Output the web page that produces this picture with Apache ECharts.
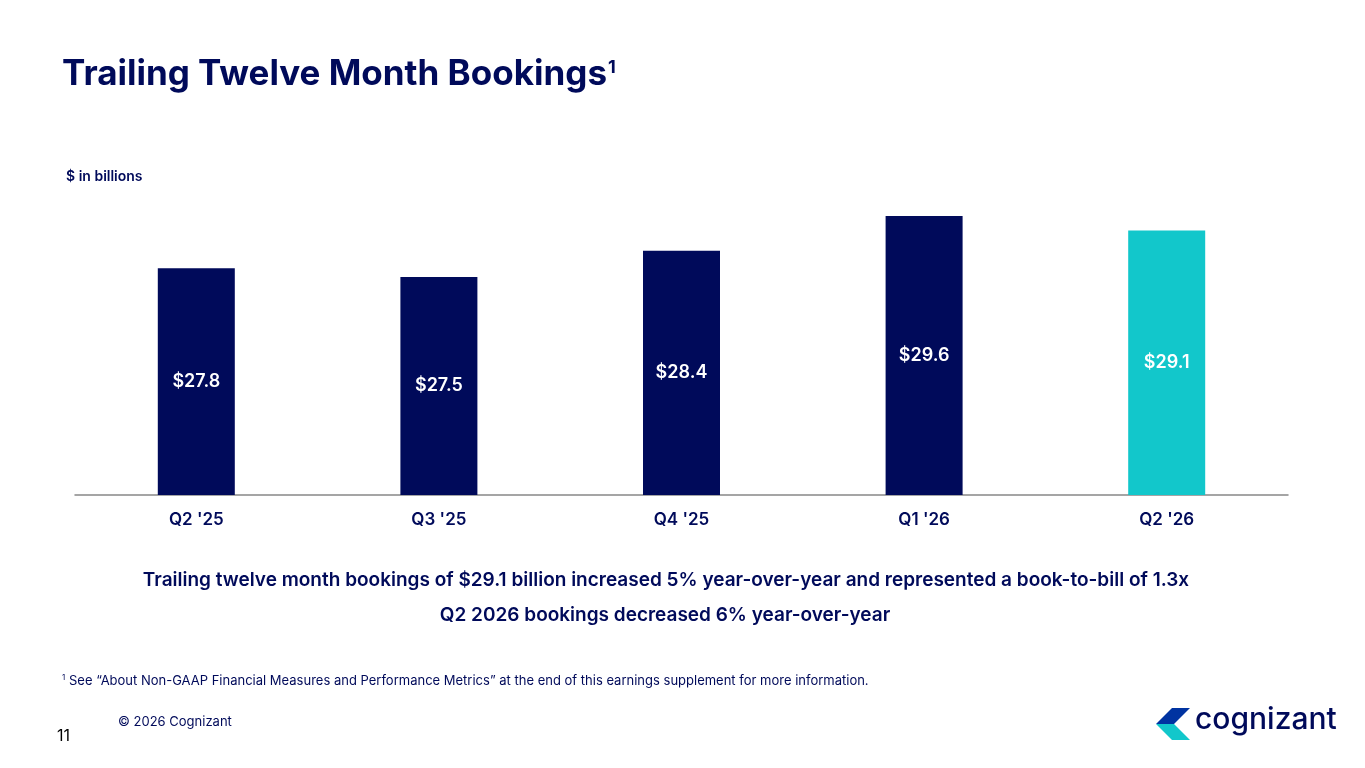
<!DOCTYPE html>
<html><head><meta charset="utf-8">
<script src="https://cdn.jsdelivr.net/npm/echarts@6/dist/echarts.min.js"></script>
<style>html,body{margin:0;padding:0;background:#fff}#c{width:1365px;height:768px}</style>
</head><body><div id="c"></div>
<script>
const categories = ["Q2 '25", "Q3 '25", "Q4 '25", "Q1 '26", "Q2 '26"];
const bookings = [27.8, 27.5, 28.4, 29.6, 29.1];
const barColors = ['#000a5a', '#000a5a', '#000a5a', '#000a5a', '#12c7cb'];
const navy = '#000a5a';
const chart = echarts.init(document.getElementById('c'));
const F = 'Inter, "Noto Sans", sans-serif';
chart.setOption({
  animation: false,
  textStyle: { fontFamily: F },
  grid: { left: 75, right: 77, top: 200, bottom: 273, containLabel: false },
  xAxis: { type: 'category', data: categories,
    axisLine: { lineStyle: { color: '#888', width: 1.5 } }, axisTick: { show: false },
    axisLabel: { color: navy, fontSize: 17, fontWeight: 600, margin: 16 } },
  yAxis: { type: 'value', min: 20, max: 30.15, show: false, splitLine: { show: false } },
  series: [{ type: 'bar', barWidth: 77,
    data: bookings.map((v, i) => ({ value: v, itemStyle: { color: barColors[i] } })),
    label: { show: true, position: 'inside', color: '#fff', fontSize: 18, fontWeight: 600,
      formatter: p => '$' + p.value.toFixed(1) } }],
  graphic: [
    { type: 'text', left: 62, top: 57, style: { text: 'Trailing Twelve Month Bookings', fill: navy, font: 'bold 35px ' + F } },
    { type: 'text', left: 608, top: 59, style: { text: '1', fill: navy, font: 'bold 18px ' + F } },
    { type: 'text', left: 66, top: 170, style: { text: '$ in billions', fill: navy, font: '600 14px ' + F } },
    { type: 'text', x: 666, y: 580, style: { text: 'Trailing twelve month bookings of $29.1 billion increased 5% year-over-year and represented a book-to-bill of 1.3x', fill: navy, font: '600 19px ' + F, align: 'center', verticalAlign: 'middle' } },
    { type: 'text', x: 665, y: 615, style: { text: 'Q2 2026 bookings decreased 6% year-over-year', fill: navy, font: '600 19px ' + F, align: 'center', verticalAlign: 'middle' } },
    { type: 'text', left: 62, top: 674, style: { text: '1', fill: navy, font: '8px ' + F } },
    { type: 'text', left: 69, top: 675, style: { text: 'See \u201cAbout Non-GAAP Financial Measures and Performance Metrics\u201d at the end of this earnings supplement for more information.', fill: navy, font: '13px ' + F } },
    { type: 'text', left: 118, top: 716, style: { text: '\u00a9 2026 Cognizant', fill: navy, font: '13px ' + F } },
    { type: 'text', left: 57, top: 728, style: { text: '11', fill: '#000', font: '16px ' + F } },
    { type: 'polygon', shape: { points: [[1156,724],[1172,708],[1190,708],[1174,724]] }, style: { fill: '#0033a1' } },
    { type: 'polygon', shape: { points: [[1156,724],[1172,740],[1190,740],[1174,724]] }, style: { fill: '#12c7cb' } },
    { type: 'text', left: 1195, top: 705, style: { text: 'cognizant', fill: navy, font: '500 30px ' + F } }
  ]
});
</script></body></html>
